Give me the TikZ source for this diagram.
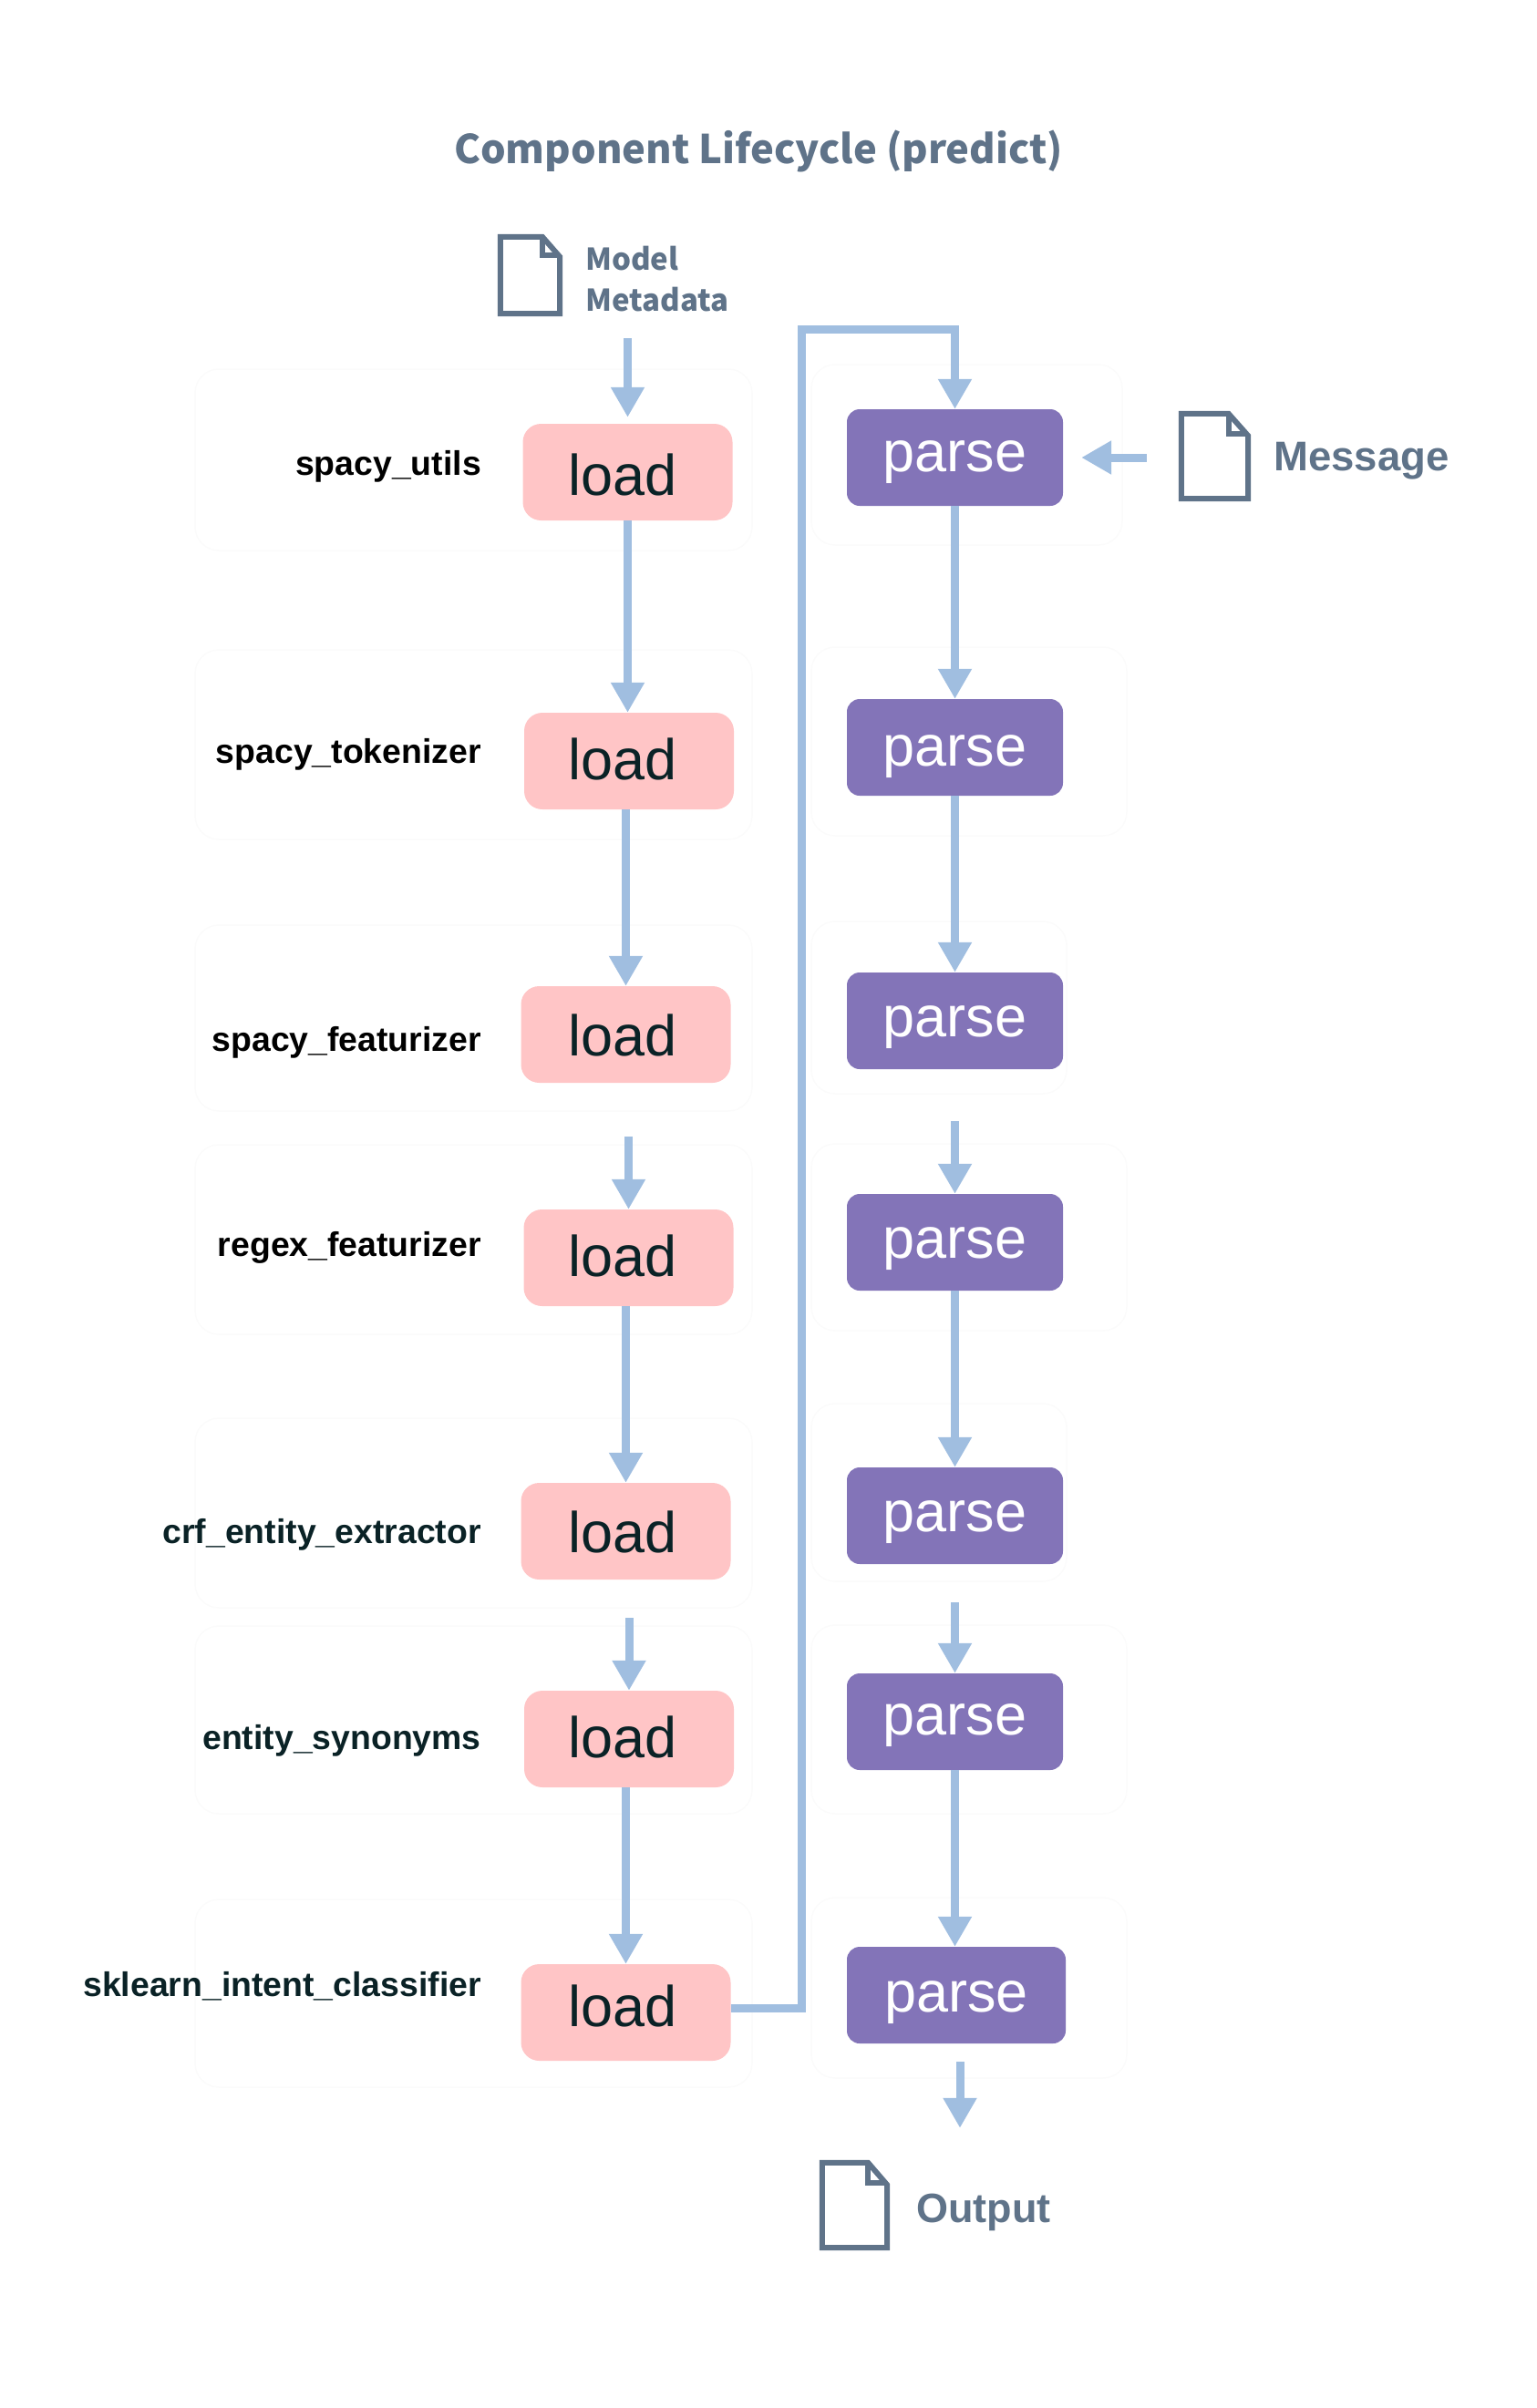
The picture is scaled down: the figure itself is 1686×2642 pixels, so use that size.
\documentclass[tikz,border=0pt]{standalone}
\usepackage{fontspec}
\setmainfont{Liberation Sans}
\newfontfamily\titlefont{Noto Sans CJK SC}
\usetikzlibrary{arrows.meta,calc}
\definecolor{loadpink}{HTML}{FFC5C6}
\definecolor{parsepurple}{HTML}{8374B8}
\definecolor{flowblue}{HTML}{A0BEE0}
\definecolor{docslate}{HTML}{5F7389}
\definecolor{labeldark}{HTML}{0A2226}
\definecolor{ghostline}{HTML}{FBFBFB}
\newcommand{\loadtext}[2]{\raisebox{#1}[46pt][0pt]{load\hspace{#2}}}
\newcommand{\parsetext}[1]{\raisebox{#1}[34pt][13pt]{parse}}
\tikzset{
  loadbox/.style={rectangle,rounded corners=20pt,fill=loadpink,text=labeldark,
    minimum width=230pt,minimum height=106pt,inner sep=0pt,
    font=\fontsize{63}{63}\selectfont},
  parsebox/.style={rectangle,rounded corners=14pt,fill=parsepurple,text=white,
    minimum width=237pt,minimum height=106pt,inner sep=0pt,
    font=\fontsize{63}{63}\selectfont},
  rowlabel/.style={anchor=east,inner sep=0pt,text=labeldark,
    font=\fontsize{37.4}{37.4}\selectfont\bfseries},
  doclabel/.style={anchor=west,inner sep=0pt,text=docslate,
    font=\fontsize{45.5}{45.5}\selectfont\bfseries},
  flow/.style={draw=flowblue,line width=9pt,-{Triangle[length=33pt,width=35pt]}},
  ghost/.style={draw=ghostline,line width=1.5pt,rounded corners=26pt},
  pics/docicon/.style n args={2}{code={
    \node[minimum width=#1,minimum height=#2,inner sep=0pt] (-box) {};
    \draw[docslate,line width=6pt,line join=miter]
      (-box.north west) -- ++(0.71*#1,0) -- (-box.north east |- 0,0.24*#2) -- (-box.south east)
      -- (-box.south west) -- cycle;
    \draw[docslate,line width=6pt]
      ($(-box.north west)+(0.71*#1,0)$) -- ++(0,-0.24*#2) -- ++(0.29*#1,0);
  }}
}
\begin{document}
\begin{tikzpicture}[x=1pt,y=-1pt]
\useasboundingbox (0,0) rectangle (1686,2642);

\draw[ghost] (214,405) rectangle (825,604);
\draw[ghost] (214,713) rectangle (825,921);
\draw[ghost] (214,1015) rectangle (825,1219);
\draw[ghost] (214,1256) rectangle (825,1464);
\draw[ghost] (214,1556) rectangle (825,1764);
\draw[ghost] (214,1784) rectangle (825,1990);
\draw[ghost] (214,2084) rectangle (825,2290);
\draw[ghost] (890,400) rectangle (1231,598);
\draw[ghost] (890,710) rectangle (1236,917);
\draw[ghost] (890,1011) rectangle (1170,1200);
\draw[ghost] (890,1255) rectangle (1236,1460);
\draw[ghost] (890,1540) rectangle (1170,1735);
\draw[ghost] (890,1783) rectangle (1236,1990);
\draw[ghost] (890,2082) rectangle (1236,2280);

\node[inner sep=0pt,text=docslate,font=\titlefont\fontsize{43.5}{43.5}\selectfont\bfseries] (title) at (832,166)
  {Component Lifecycle (predict)};

\pic (metadata) at (581.5,302) {docicon={65pt}{84pt}};
\node[anchor=north west,inner sep=0pt,align=left,text=docslate,
  font=\titlefont\fontsize{33}{45}\selectfont\bfseries] (metadatatext) at (642,270) {Model\\Metadata};
\pic (message) at (1332.5,500.5) {docicon={73pt}{93pt}};
\node[doclabel] (messagetext) at (1397,506) {Message};
\pic (output) at (937.5,2419.5) {docicon={71pt}{93pt}};
\node[doclabel,font=\fontsize{45}{45}\selectfont\bfseries] (outputtext) at (1005,2427) {Output};

\node[loadbox] (load1) at (688.5,518) {\loadtext{-2pt}{11pt}};
\node[loadbox] (load2) at (690,835) {\loadtext{3pt}{14pt}};
\node[loadbox] (load3) at (686.5,1135) {\loadtext{0pt}{7pt}};
\node[loadbox] (load4) at (689.5,1380) {\loadtext{3pt}{13pt}};
\node[loadbox] (load5) at (686.5,1680) {\loadtext{0pt}{7pt}};
\node[loadbox] (load6) at (690,1908) {\loadtext{3pt}{14pt}};
\node[loadbox] (load7) at (686.5,2208) {\loadtext{8pt}{7pt}};

\node[parsebox] (parse1) at (1047.5,502) {\parsetext{-5pt}};
\node[parsebox] (parse2) at (1047.5,820) {\parsetext{-10pt}};
\node[parsebox] (parse3) at (1047.5,1120) {\parsetext{-7pt}};
\node[parsebox] (parse4) at (1047.5,1363) {\parsetext{-7pt}};
\node[parsebox] (parse5) at (1047.5,1663) {\parsetext{-7pt}};
\node[parsebox] (parse6) at (1047.5,1889) {\parsetext{-3.5pt}};
\node[parsebox,minimum width=240pt] (parse7) at (1049,2189) {\parsetext{-8pt}};

\node[rowlabel,text=black] (spacyutils) at (528,512) {spacy\_utils};
\node[rowlabel,text=black] (spacytokenizer) at (528,828) {spacy\_tokenizer};
\node[rowlabel,text=black] (spacyfeaturizer) at (528,1144) {spacy\_featurizer};
\node[rowlabel,text=black] (regexfeaturizer) at (528,1369) {regex\_featurizer};
\node[rowlabel] (crfextractor) at (528,1684) {crf\_entity\_extractor};
\node[rowlabel] (entitysynonyms) at (528,1910) {entity\_synonyms};
\node[rowlabel] (sklearnclassifier) at (528,2179) {sklearn\_intent\_classifier};

\coordinate (feedbacktop) at (1047.5,361);

\draw[flow,shorten <=27pt,shorten >=7pt] (metadata-box.south -| load1.north) -- (load1.north);
\draw[flow] (load1.south) -- (load1.south |- load2.north);
\draw[flow] (load2.south -| load3.north) -- (load3.north);
\draw[flow,shorten <=59pt] (load3.south -| load4.north) -- (load4.north);
\draw[flow] (load4.south -| load5.north) -- (load5.north);
\draw[flow,shorten <=42pt] (load5.south -| load6.north) -- (load6.north);
\draw[flow] (load6.south -| load7.north) -- (load7.north);

\draw[flow] ([yshift=5pt]load7.east) -- ++(78,0) |- (feedbacktop) -- (parse1.north);

\draw[flow] (parse1) -- (parse2);
\draw[flow] (parse2) -- (parse3);
\draw[flow,shorten <=57pt] (parse3) -- (parse4);
\draw[flow] (parse4) -- (parse5);
\draw[flow,shorten <=42pt] (parse5) -- (parse6);
\draw[flow] (parse6) -- (parse7.north -| parse6.south);

\draw[flow,shorten <=38pt,shorten >=20pt] (message-box.west |- parse1.east) -- (parse1.east);
\draw[flow,shorten <=20pt,shorten >=38pt] (parse7.south -| 1053,0) -- (output-box.north -| 1053,0);
\end{tikzpicture}
\end{document}
